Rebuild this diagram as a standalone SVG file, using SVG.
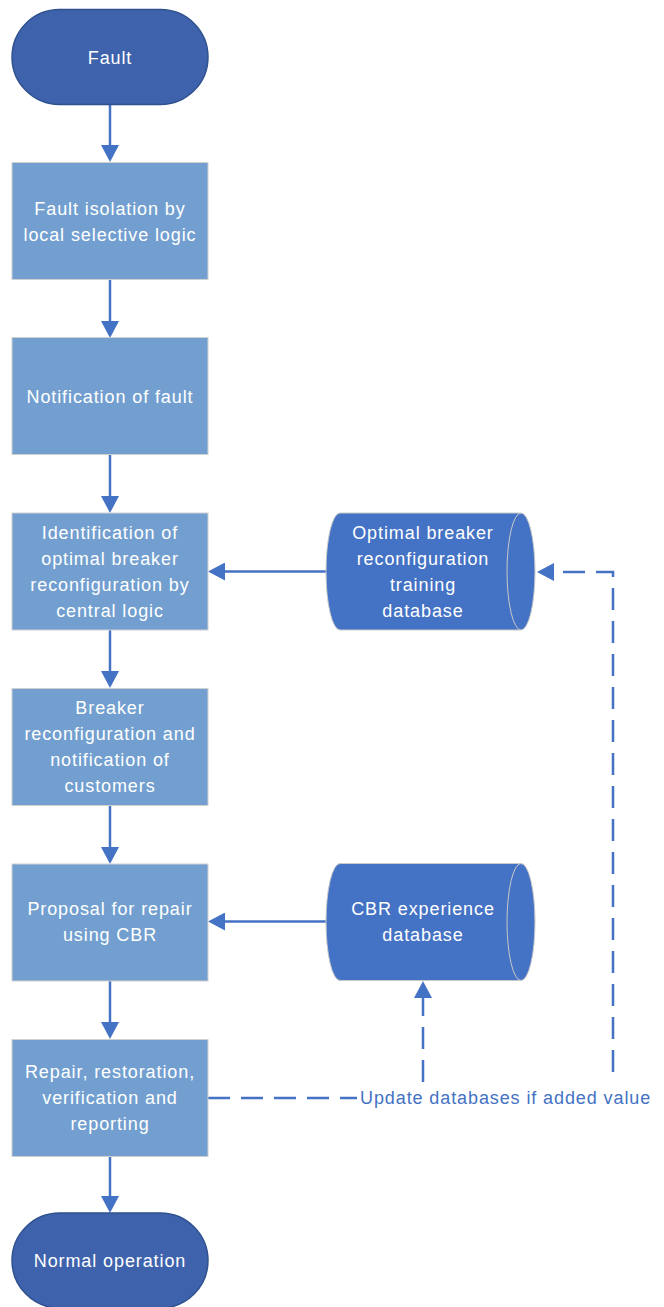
<svg xmlns="http://www.w3.org/2000/svg" width="664" height="1307" viewBox="0 0 664 1307">
  <style>
    .term { fill: #3E63AC; stroke: #2F528F; stroke-width: 1.5; }
    .proc { fill: #729FCF; stroke: #D0D0D0; stroke-width: 1; }
    .db { fill: #4472C4; stroke: #C9C9C9; stroke-width: 1; }
    .dbarc { fill: none; stroke: #C9C9C9; stroke-width: 1; }
    .lbl { font-family: "Liberation Sans", Arial, sans-serif; font-size: 18px; letter-spacing: 0.9px; fill: #FFFFFF; text-anchor: middle; }
    .note { font-family: "Liberation Sans", Arial, sans-serif; font-size: 18px; letter-spacing: 0.9px; fill: #4472C4; }
    .conn { fill: none; stroke: #4472C4; stroke-width: 2.5; }
    .dash { stroke-dasharray: 22 11; }
  </style>
  <defs>
    <marker id="arrow" viewBox="0 0 17 18" refX="0" refY="9" markerWidth="17" markerHeight="18" markerUnits="userSpaceOnUse" orient="auto">
      <path d="M0,0 L17,9 L0,18 Z" fill="#4472C4"/>
    </marker>
  </defs>

  <!-- connectors -->
  <g id="connectors">
    <path class="conn" d="M110,104 V145" marker-end="url(#arrow)"/>
    <path class="conn" d="M110,279 V321" marker-end="url(#arrow)"/>
    <path class="conn" d="M110,455 V496" marker-end="url(#arrow)"/>
    <path class="conn" d="M110,630 V671" marker-end="url(#arrow)"/>
    <path class="conn" d="M110,806 V847" marker-end="url(#arrow)"/>
    <path class="conn" d="M110,981 V1022" marker-end="url(#arrow)"/>
    <path class="conn" d="M110,1156 V1196" marker-end="url(#arrow)"/>
    <path class="conn" d="M326,571.5 H225" marker-end="url(#arrow)"/>
    <path class="conn" d="M326,921.5 H225" marker-end="url(#arrow)"/>
    <path class="conn dash" d="M208,1098 H357"/>
    <path class="conn dash" d="M423,1082 V998" marker-end="url(#arrow)"/>
    <path class="conn dash" d="M613,1072 V572 H554" marker-end="url(#arrow)"/>
    <text class="note" x="360" y="1104">Update databases if added value</text>
  </g>

  <!-- start -->
  <g id="fault">
    <rect class="term" x="12" y="9.5" width="196" height="95" rx="47.5" ry="47.5"/>
    <text class="lbl" x="110" y="63.5">Fault</text>
  </g>

  <g id="isolation">
    <rect class="proc" x="12" y="162.5" width="196" height="117"/>
    <text class="lbl" x="110" y="215">Fault isolation by</text>
    <text class="lbl" x="110" y="241">local selective logic</text>
  </g>

  <g id="notification">
    <rect class="proc" x="12" y="337.5" width="196" height="117"/>
    <text class="lbl" x="110" y="403">Notification of fault</text>
  </g>

  <g id="identification">
    <rect class="proc" x="12" y="513" width="196" height="117"/>
    <text class="lbl" x="110" y="539">Identification of</text>
    <text class="lbl" x="110" y="565">optimal breaker</text>
    <text class="lbl" x="110" y="591">reconfiguration by</text>
    <text class="lbl" x="110" y="617">central logic</text>
  </g>

  <g id="reconfiguration">
    <rect class="proc" x="12" y="688.5" width="196" height="117"/>
    <text class="lbl" x="110" y="714">Breaker</text>
    <text class="lbl" x="110" y="740">reconfiguration and</text>
    <text class="lbl" x="110" y="766">notification of</text>
    <text class="lbl" x="110" y="792">customers</text>
  </g>

  <g id="proposal">
    <rect class="proc" x="12" y="864" width="196" height="117"/>
    <text class="lbl" x="110" y="915">Proposal for repair</text>
    <text class="lbl" x="110" y="941">using CBR</text>
  </g>

  <g id="repair">
    <rect class="proc" x="12" y="1039.5" width="196" height="117"/>
    <text class="lbl" x="110" y="1078">Repair, restoration,</text>
    <text class="lbl" x="110" y="1104">verification and</text>
    <text class="lbl" x="110" y="1130">reporting</text>
  </g>

  <!-- end -->
  <g id="normal">
    <rect class="term" x="12" y="1213" width="196" height="95" rx="47.5" ry="47.5"/>
    <text class="lbl" x="110" y="1267">Normal operation</text>
  </g>

  <!-- stored data -->
  <g id="training-db">
    <path class="db" d="M340,513 H521 A14,58.5 0 0 1 521,630 H340 A14,58.5 0 0 1 340,513 Z"/>
    <path class="dbarc" d="M521,513 A14,58.5 0 0 0 521,630"/>
    <text class="lbl" x="423" y="539">Optimal breaker</text>
    <text class="lbl" x="423" y="565">reconfiguration</text>
    <text class="lbl" x="423" y="591">training</text>
    <text class="lbl" x="423" y="617">database</text>
  </g>

  <g id="cbr-db">
    <path class="db" d="M340,863.5 H521 A14,58.5 0 0 1 521,980.5 H340 A14,58.5 0 0 1 340,863.5 Z"/>
    <path class="dbarc" d="M521,863.5 A14,58.5 0 0 0 521,980.5"/>
    <text class="lbl" x="423" y="915">CBR experience</text>
    <text class="lbl" x="423" y="941">database</text>
  </g>
</svg>
